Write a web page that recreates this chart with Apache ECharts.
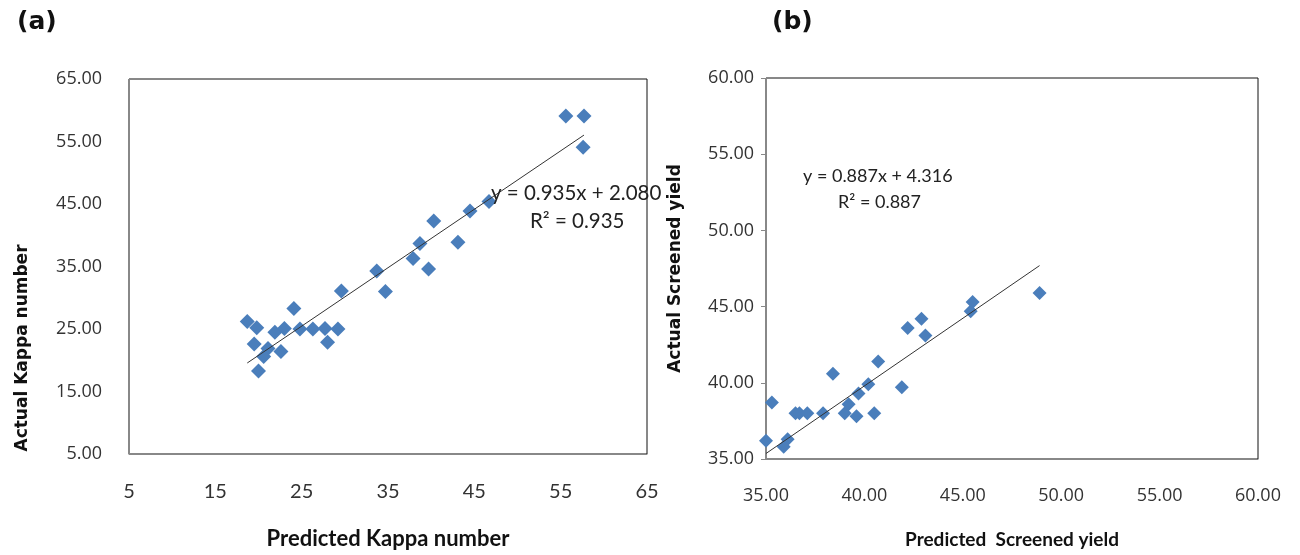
<!DOCTYPE html>
<html>
<head>
<meta charset="utf-8">
<script src="https://cdn.jsdelivr.net/npm/echarts@6/dist/echarts.min.js"></script>
<style>
    html, body { margin: 0; padding: 0; background: #fff; }
    #chart { width: 1300px; height: 555px; }
</style>
</head>
<body>
<div id="chart"></div>
<script>
// (a) Kappa number: predicted vs actual
const kappaPredicted = [55.6, 57.7, 57.6, 46.7, 44.5, 40.3, 43.1, 38.7, 37.9, 39.7, 33.7, 34.7, 29.6, 24.1,
    18.7, 19.8, 21.9, 23.0, 24.8, 26.3, 27.7, 29.2, 19.5, 28.0, 22.6, 21.1, 20.6, 20.0];
const kappaActual = [59.1, 59.1, 54.1, 45.4, 43.9, 42.3, 38.9, 38.7, 36.3, 34.6, 34.3, 31.0, 31.1, 28.3,
    26.2, 25.2, 24.5, 25.1, 25.0, 25.0, 25.1, 25.0, 22.6, 22.9, 21.4, 21.9, 20.6, 18.3];
const kappaFit = [0.935, 2.080];
const kappaR2 = 0.935;
const kappaTicks = [5, 15, 25, 35, 45, 55, 65];

// (b) Screened yield: predicted vs actual
const yieldPredicted = [35.0, 35.3, 35.9, 36.1, 36.5, 36.7, 37.1, 37.9, 38.4, 39.0, 39.2, 39.6, 39.7, 40.2,
    40.5, 40.7, 41.9, 42.2, 42.9, 43.1, 45.4, 45.5, 48.9];
const yieldActual = [36.2, 38.7, 35.8, 36.3, 38.0, 38.0, 38.0, 38.0, 40.6, 38.0, 38.6, 37.8, 39.3, 39.9,
    38.0, 41.4, 39.7, 43.6, 44.2, 43.1, 44.7, 45.3, 45.9];
const yieldFit = [0.887, 4.316];
const yieldR2 = 0.887;
const yieldTicks = [35, 40, 45, 50, 55, 60];

const markerColor = '#4a7ebb';

function zipPoints(xs, ys) {
    return xs.map((x, i) => [x, ys[i]]);
}

function fitLine(xs, fit) {
    const lo = Math.min(...xs);
    const hi = Math.max(...xs);
    return [[lo, fit[0] * lo + fit[1]], [hi, fit[0] * hi + fit[1]]];
}

function fitText(fit) {
    return 'y = ' + fit[0].toFixed(3) + 'x + ' + fit[1].toFixed(3);
}

const chart = echarts.init(document.getElementById('chart'), null, { renderer: 'canvas' });

const tickFont = { color: '#333', fontFamily: 'Open Sans', fontSize: 18 };

chart.setOption({
    animation: false,
    grid: [
        { left: 129, right: 653, top: 79, bottom: 101, show: true, borderColor: '#111', borderWidth: 1, outerBoundsMode: 'none' },
        { left: 766, right: 42, top: 78, bottom: 96, show: true, borderColor: '#111', borderWidth: 1, outerBoundsMode: 'none' },
    ],
    xAxis: [
        {
            gridIndex: 0,
            type: 'value',
            min: kappaTicks[0],
            max: kappaTicks[kappaTicks.length - 1],
            interval: 10,
            axisLine: { lineStyle: { color: '#888' } },
            axisTick: { show: false },
            splitLine: { show: false },
            axisLabel: { color: '#333', fontSize: 20, fontFamily: 'Lato', margin: 28 },
            name: 'Predicted Kappa number',
            nameLocation: 'middle',
            nameGap: 74,
            nameTextStyle: { color: '#111', fontWeight: 'bold', fontFamily: 'Lato', fontSize: 22 },
        },
        {
            gridIndex: 1,
            type: 'value',
            min: yieldTicks[0],
            max: yieldTicks[yieldTicks.length - 1],
            interval: 5,
            axisLine: { lineStyle: { color: '#888' } },
            axisTick: { show: false },
            splitLine: { show: false },
            axisLabel: Object.assign({}, tickFont, { margin: 28, formatter: (v) => v.toFixed(2) }),
            name: 'Predicted  Screened yield',
            nameLocation: 'middle',
            nameGap: 71,
            nameTextStyle: { color: '#111', fontWeight: 'bold', fontFamily: 'Lato', fontSize: 19 },
        },
    ],
    yAxis: [
        {
            gridIndex: 0,
            type: 'value',
            min: 5,
            max: 65,
            interval: 10,
            axisLine: { show: true, lineStyle: { color: '#888' } },
            axisTick: { show: false },
            splitLine: { show: false },
            axisLabel: Object.assign({}, tickFont, { margin: 27, formatter: (v) => v.toFixed(2) }),
        },
        {
            gridIndex: 1,
            type: 'value',
            min: yieldTicks[0],
            max: yieldTicks[yieldTicks.length - 1],
            interval: 5,
            axisLine: { show: true, lineStyle: { color: '#888' } },
            axisTick: { show: true, length: 5, lineStyle: { color: '#888' } },
            splitLine: { show: false },
            axisLabel: Object.assign({}, tickFont, { margin: 12, formatter: (v) => v.toFixed(2) }),
            name: 'Actual Screened yield',
            nameLocation: 'middle',
            nameGap: 82,
            nameTextStyle: { color: '#111', fontWeight: 'bold', fontFamily: 'DejaVu Sans', fontSize: 17 },
        },
    ],
    series: [
        {
            type: 'scatter',
            xAxisIndex: 0,
            yAxisIndex: 0,
            symbol: 'diamond',
            symbolSize: 15,
            itemStyle: { color: markerColor, opacity: 1 },
            data: zipPoints(kappaPredicted, kappaActual),
            z: 3,
        },
        {
            type: 'line',
            xAxisIndex: 0,
            yAxisIndex: 0,
            showSymbol: false,
            lineStyle: { color: '#333', width: 1 },
            data: fitLine(kappaPredicted, kappaFit),
            z: 4,
        },
        {
            type: 'scatter',
            xAxisIndex: 1,
            yAxisIndex: 1,
            symbol: 'diamond',
            symbolSize: 14,
            itemStyle: { color: markerColor, opacity: 1 },
            data: zipPoints(yieldPredicted, yieldActual),
            z: 3,
        },
        {
            type: 'line',
            xAxisIndex: 1,
            yAxisIndex: 1,
            showSymbol: false,
            lineStyle: { color: '#333', width: 1 },
            data: fitLine(yieldPredicted, yieldFit),
            z: 4,
        },
    ],
    graphic: [
        {
            type: 'text', left: 17, top: 10, z: 10,
            style: { text: '(a)', font: 'bold 25px "DejaVu Sans"', fill: '#111' },
        },
        {
            type: 'text', left: 772, top: 10, z: 10,
            style: { text: '(b)', font: 'bold 25px "DejaVu Sans"', fill: '#111' },
        },
        {
            // y-axis title of (a) sits low, below the plot's middle
            type: 'text', x: 23, y: 348, rotation: Math.PI / 2, z: 10,
            style: {
                text: 'Actual Kappa number', font: 'bold 17px "DejaVu Sans"', fill: '#111',
                align: 'center', verticalAlign: 'middle',
            },
        },
        {
            type: 'text', left: 491, top: 183, z: 10,
            style: { text: fitText(kappaFit), font: '20.5px Lato', fill: '#222' },
        },
        {
            type: 'text', left: 530, top: 211, z: 10,
            style: { text: 'R² = ' + kappaR2.toFixed(3), font: '20.5px Lato', fill: '#222' },
        },
        {
            type: 'text', left: 803, top: 167, z: 10,
            style: { text: fitText(yieldFit), font: '18px Lato', fill: '#222' },
        },
        {
            type: 'text', left: 838, top: 193, z: 10,
            style: { text: 'R² = ' + yieldR2.toFixed(3), font: '18px Lato', fill: '#222' },
        },
    ],
});
</script>
</body>
</html>
